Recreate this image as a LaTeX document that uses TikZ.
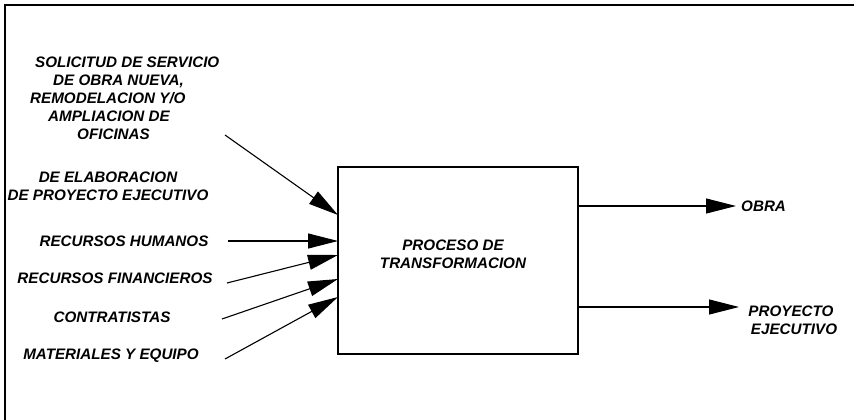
\documentclass[tikz,border=0pt]{standalone}
\usepackage{fontspec}
\setmainfont{Liberation Sans}
\usetikzlibrary{arrows.meta,positioning}

\begin{document}
\begin{tikzpicture}
            [x=1pt, y=-1pt, font=\fontsize{15.2}{18}\selectfont\bfseries\itshape,
             flow/.style={-{Triangle[length=30pt, width=15pt]}, line width=1.1pt}]
            \useasboundingbox (0,0) rectangle (854,420);
            % frame
            \draw[line width=1.2pt] (5,420) -- (5,5) -- (854,5);

            \node[draw, rectangle, line width=1.1pt, minimum width=240pt, minimum height=187pt, inner sep=0pt] (process) at (458,260.5) {};
            \node[align=center, inner sep=0pt] (processtext) at (453,254) {PROCESO DE\\TRANSFORMACION};

            % inputs
            \node[align=left, inner sep=0pt, anchor=west] (solicitud) at (30,98.5) {
                \hspace*{5pt}SOLICITUD DE SERVICIO\\
                \hspace*{23pt}DE OBRA NUEVA,\\
                REMODELACION Y/O\\
                \hspace*{18pt}AMPLIACION DE\\
                \hspace*{47pt}OFICINAS
            };
            \node[align=center, inner sep=0pt] (elaboracion) at (108,186) {DE ELABORACION\\DE PROYECTO EJECUTIVO};
            \node[inner sep=0pt] (humanos) at (124,241) {RECURSOS HUMANOS};
            \node[inner sep=0pt] (financieros) at (115,278) {RECURSOS FINANCIEROS};
            \node[inner sep=0pt] (contratistas) at (112,317) {CONTRATISTAS};
            \node[inner sep=0pt] (materiales) at (111,356) {MATERIALES Y EQUIPO};

            % outputs
            \node[inner sep=0pt, anchor=west] (obra) at (741,206) {OBRA};
            \node[align=center, inner sep=0pt] (proyecto) at (791,320) {PROYECTO\\\hspace*{6pt}EJECUTIVO};

            \coordinate (s1) at (225,135);
            \coordinate (s2) at (228,241);
            \coordinate (s3) at (227,283);
            \coordinate (s4) at (222,319);
            \coordinate (s5) at (225,359);
            \coordinate (e1) at (338,215);
            \coordinate (e2) at (338,241);
            \coordinate (e3) at (338,255);
            \coordinate (e4) at (338,279);
            \coordinate (e5) at (338,297);
            \coordinate (o1) at (578,206);
            \coordinate (o2) at (578,307);

            \draw[flow] (s1) -- (e1);
            \draw[flow] (s2) -- (e2);
            \draw[flow] (s3) -- (e3);
            \draw[flow] (s4) -- (e4);
            \draw[flow] (s5) -- (e5);
            \draw[flow] (o1) -- (obra.west -| 736,0);
            \draw[flow] (o2) -- (739,307);
        \end{tikzpicture}
\end{document}
